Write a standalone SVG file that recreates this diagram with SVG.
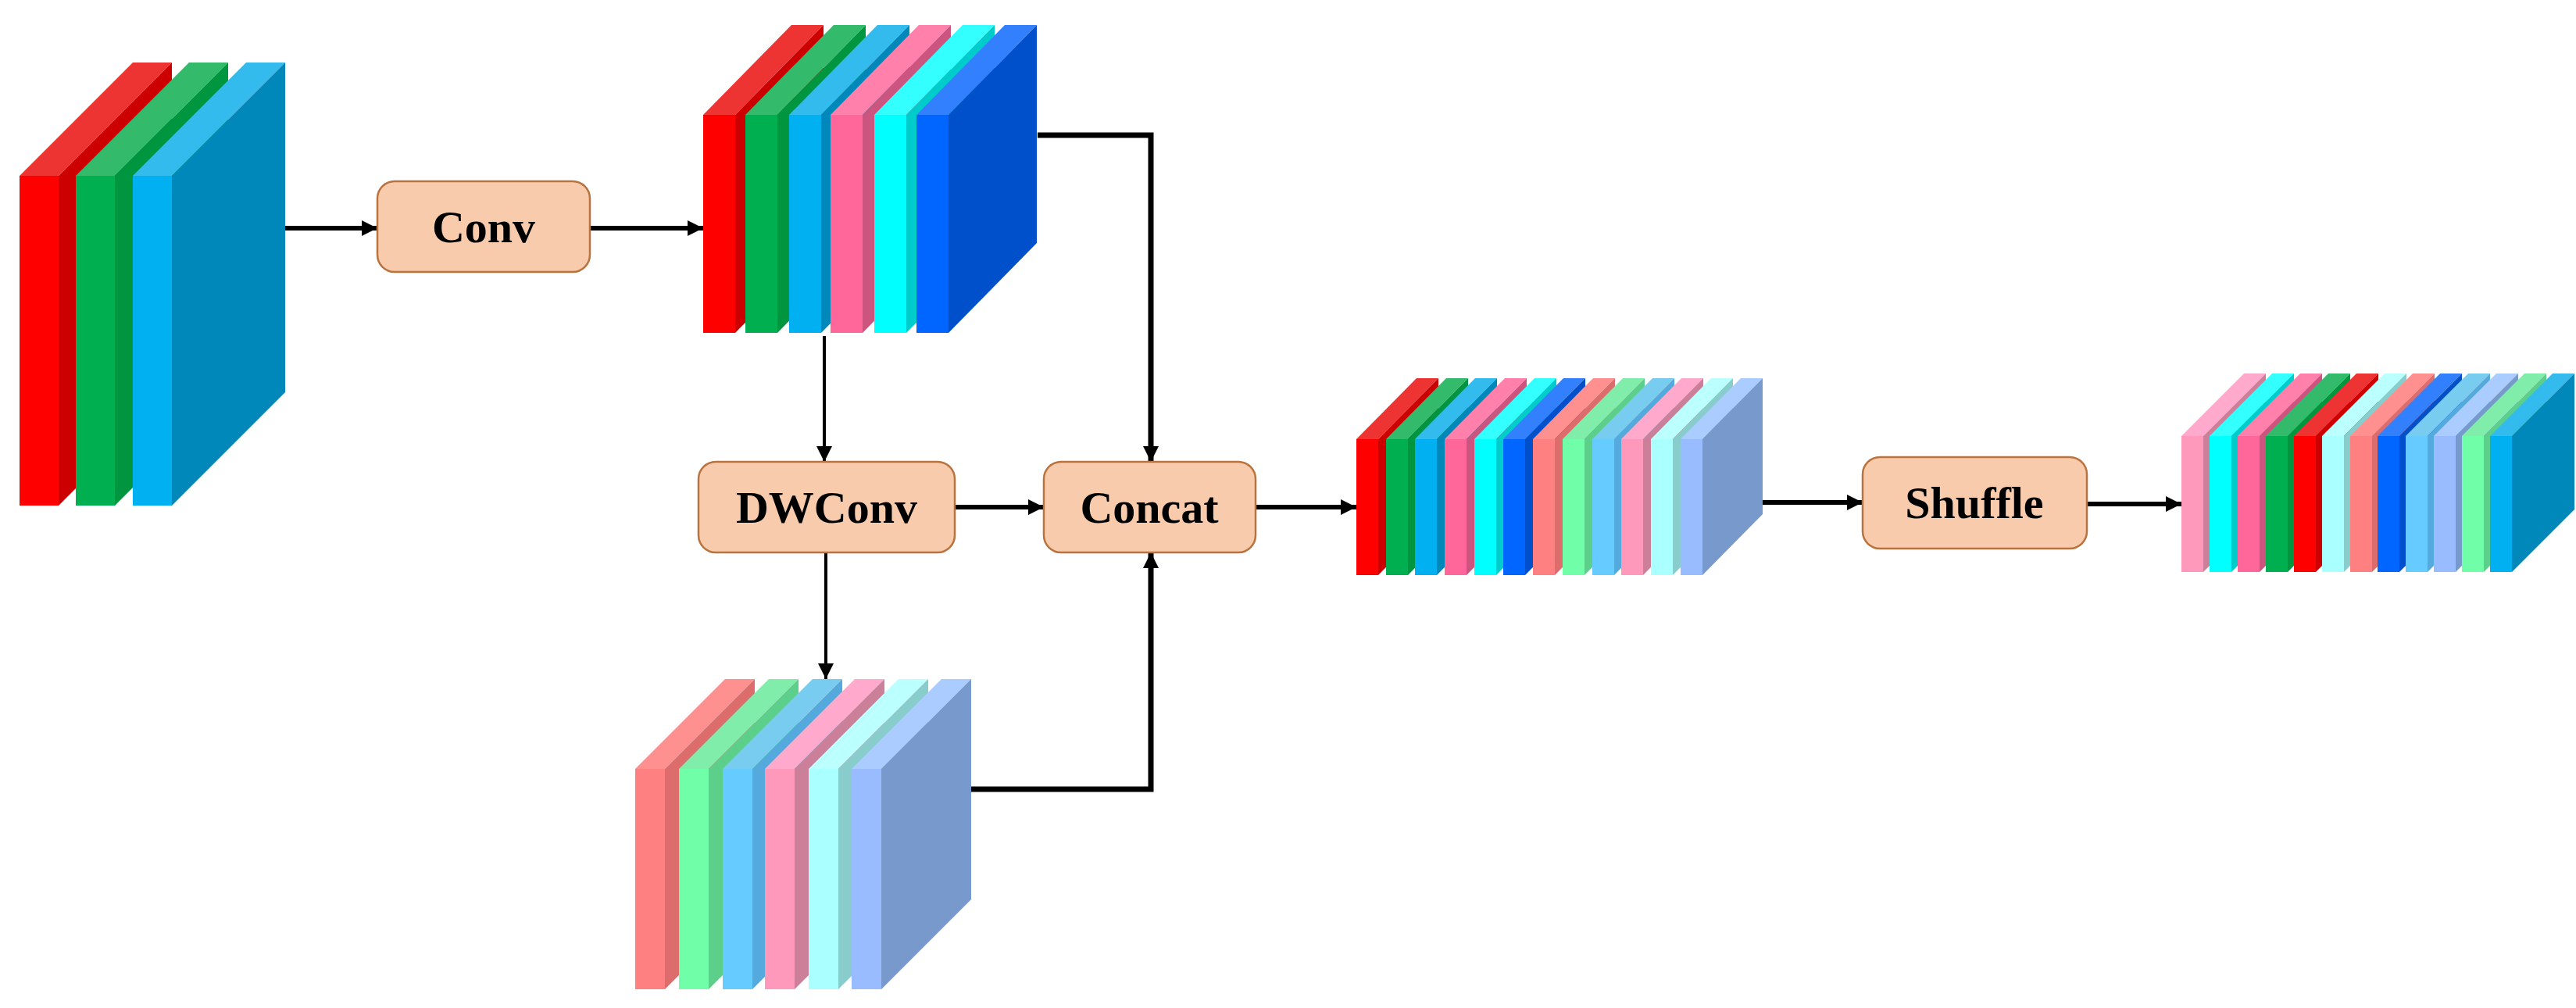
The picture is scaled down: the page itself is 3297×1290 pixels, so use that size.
<svg xmlns="http://www.w3.org/2000/svg" xmlns:xlink="http://www.w3.org/1999/xlink" width="3297" height="1290" viewBox="0 0 3297 1290">
<style>
.box{fill:#f8cbad;stroke:#b8733f;stroke-width:2.5}
.lbl{font-family:"Liberation Serif",serif;font-weight:bold;font-size:58px;fill:#000;text-anchor:middle;dominant-baseline:central}
.ln{fill:none;stroke:#000;stroke-width:6;marker-end:url(#ah)}
.ln2{fill:none;stroke:#000;stroke-width:7;marker-end:url(#ah)}
.thin{fill:none;stroke:#000;stroke-width:4;marker-end:url(#ah)}
.r .t{fill:#ee3333}.r .s{fill:#cc0000}.r .f{fill:#ff0000}
.g .t{fill:#33bb6b}.g .s{fill:#00953f}.g .f{fill:#00b050}
.b .t{fill:#33bbee}.b .s{fill:#0088bb}.b .f{fill:#00b0f0}
.p .t{fill:#ff80aa}.p .s{fill:#cc5580}.p .f{fill:#ff6699}
.c .t{fill:#33ffff}.c .s{fill:#00cccc}.c .f{fill:#00ffff}
.d .t{fill:#3380ff}.d .s{fill:#0050cc}.d .f{fill:#0066ff}
.sa .t{fill:#ff9090}.sa .s{fill:#dd6c6c}.sa .f{fill:#ff8080}
.m .t{fill:#80eeaa}.m .s{fill:#5cd08a}.m .f{fill:#70ffa8}
.lb .t{fill:#77ccf0}.lb .s{fill:#55aadd}.lb .f{fill:#66ccff}
.lp .t{fill:#ffaacc}.lp .s{fill:#cc7f99}.lp .f{fill:#ff99bb}
.pc .t{fill:#bbffff}.pc .s{fill:#88cccc}.pc .f{fill:#aaffff}
.pw .t{fill:#aaccff}.pw .s{fill:#7799cc}.pw .f{fill:#99bbff}
</style>
<defs>
<marker id="ah" viewBox="0 0 10 10" refX="10" refY="5" markerUnits="userSpaceOnUse" markerWidth="22" markerHeight="20" orient="auto"><path d="M0,0 L10,5 L0,10 z" fill="#000"/></marker>
<path id="At" d="M0,0 h50 l145,-145 h-50 z"/><path id="As" d="M50,0 l145,-145 v422 l-145,145 z"/><rect id="Af" width="50" height="422"/>
<path id="Bt" d="M0,0 h41 l113,-115 h-41 z"/><path id="Bs" d="M41,0 l113,-115 v279 l-113,115 z"/><rect id="Bf" width="41" height="279"/>
<path id="Ct" d="M0,0 h28 l77,-78 h-28 z"/><path id="Cs" d="M28,0 l77,-78 v174 l-77,78 z"/><rect id="Cf" width="28" height="174"/>
<path id="Dt" d="M0,0 h38 l115,-115 h-38 z"/><path id="Ds" d="M38,0 l115,-115 v282 l-115,115 z"/><rect id="Df" width="38" height="282"/>
<path id="Et" d="M0,0 h28 l80,-80 h-28 z"/><path id="Es" d="M28,0 l80,-80 v174 l-80,80 z"/><rect id="Ef" width="28" height="174"/>
</defs>

<g id="connectors">
<path class="ln" d="M365,292 H483"/>
<path class="ln" d="M755,292 H900"/>
<path class="thin" d="M1055,430 V591"/>
<path class="ln2" d="M1328,173 H1473 V591"/>
<path class="ln" d="M1222,649 H1336"/>
<path class="thin" d="M1057,707 V869"/>
<path class="ln2" d="M1243,1010 H1473 V707"/>
<path class="ln" d="M1607,649 H1736"/>
<path class="ln" d="M2256,643 H2384"/>
<path class="ln" d="M2671,645 H2792"/>
</g>

<g id="input-stack">
<g class="r" transform="translate(25,225)"><use href="#At" class="t"/><use href="#As" class="s"/><use href="#Af" class="f"/></g>
<g class="g" transform="translate(97,225)"><use href="#At" class="t"/><use href="#As" class="s"/><use href="#Af" class="f"/></g>
<g class="b" transform="translate(170,225)"><use href="#At" class="t"/><use href="#As" class="s"/><use href="#Af" class="f"/></g>
</g>

<g id="conv"><rect class="box" x="483" y="232" width="272" height="116" rx="22"/><text class="lbl" x="619" y="290">Conv</text></g>

<g id="conv-out-stack">
<g class="r" transform="translate(900,147)"><use href="#Bt" class="t"/><use href="#Bs" class="s"/><use href="#Bf" class="f"/></g>
<g class="g" transform="translate(954,147)"><use href="#Bt" class="t"/><use href="#Bs" class="s"/><use href="#Bf" class="f"/></g>
<g class="b" transform="translate(1010,147)"><use href="#Bt" class="t"/><use href="#Bs" class="s"/><use href="#Bf" class="f"/></g>
<g class="p" transform="translate(1063,147)"><use href="#Bt" class="t"/><use href="#Bs" class="s"/><use href="#Bf" class="f"/></g>
<g class="c" transform="translate(1119,147)"><use href="#Bt" class="t"/><use href="#Bs" class="s"/><use href="#Bf" class="f"/></g>
<g class="d" transform="translate(1173,147)"><use href="#Bt" class="t"/><use href="#Bs" class="s"/><use href="#Bf" class="f"/></g>
</g>

<g id="dwconv"><rect class="box" x="894" y="591" width="328" height="116" rx="22"/><text class="lbl" x="1058" y="649">DWConv</text></g>
<g id="concat"><rect class="box" x="1336" y="591" width="271" height="116" rx="22"/><text class="lbl" x="1471" y="649">Concat</text></g>

<g id="dwconv-out-stack">
<g class="sa" transform="translate(813,984)"><use href="#Dt" class="t"/><use href="#Ds" class="s"/><use href="#Df" class="f"/></g>
<g class="m" transform="translate(869,984)"><use href="#Dt" class="t"/><use href="#Ds" class="s"/><use href="#Df" class="f"/></g>
<g class="lb" transform="translate(925,984)"><use href="#Dt" class="t"/><use href="#Ds" class="s"/><use href="#Df" class="f"/></g>
<g class="lp" transform="translate(979,984)"><use href="#Dt" class="t"/><use href="#Ds" class="s"/><use href="#Df" class="f"/></g>
<g class="pc" transform="translate(1035,984)"><use href="#Dt" class="t"/><use href="#Ds" class="s"/><use href="#Df" class="f"/></g>
<g class="pw" transform="translate(1090,984)"><use href="#Dt" class="t"/><use href="#Ds" class="s"/><use href="#Df" class="f"/></g>
</g>

<g id="concat-out-stack">
<g class="r" transform="translate(1736,562)"><use href="#Ct" class="t"/><use href="#Cs" class="s"/><use href="#Cf" class="f"/></g>
<g class="g" transform="translate(1774,562)"><use href="#Ct" class="t"/><use href="#Cs" class="s"/><use href="#Cf" class="f"/></g>
<g class="b" transform="translate(1811,562)"><use href="#Ct" class="t"/><use href="#Cs" class="s"/><use href="#Cf" class="f"/></g>
<g class="p" transform="translate(1849,562)"><use href="#Ct" class="t"/><use href="#Cs" class="s"/><use href="#Cf" class="f"/></g>
<g class="c" transform="translate(1887,562)"><use href="#Ct" class="t"/><use href="#Cs" class="s"/><use href="#Cf" class="f"/></g>
<g class="d" transform="translate(1924,562)"><use href="#Ct" class="t"/><use href="#Cs" class="s"/><use href="#Cf" class="f"/></g>
<g class="sa" transform="translate(1962,562)"><use href="#Ct" class="t"/><use href="#Cs" class="s"/><use href="#Cf" class="f"/></g>
<g class="m" transform="translate(2000,562)"><use href="#Ct" class="t"/><use href="#Cs" class="s"/><use href="#Cf" class="f"/></g>
<g class="lb" transform="translate(2038,562)"><use href="#Ct" class="t"/><use href="#Cs" class="s"/><use href="#Cf" class="f"/></g>
<g class="lp" transform="translate(2075,562)"><use href="#Ct" class="t"/><use href="#Cs" class="s"/><use href="#Cf" class="f"/></g>
<g class="pc" transform="translate(2113,562)"><use href="#Ct" class="t"/><use href="#Cs" class="s"/><use href="#Cf" class="f"/></g>
<g class="pw" transform="translate(2151,562)"><use href="#Ct" class="t"/><use href="#Cs" class="s"/><use href="#Cf" class="f"/></g>
</g>

<g id="shuffle"><rect class="box" x="2384" y="585" width="287" height="117" rx="22"/><text class="lbl" x="2527" y="643">Shuffle</text></g>

<g id="shuffle-out-stack">
<g class="lp" transform="translate(2792,558)"><use href="#Et" class="t"/><use href="#Es" class="s"/><use href="#Ef" class="f"/></g>
<g class="c" transform="translate(2828,558)"><use href="#Et" class="t"/><use href="#Es" class="s"/><use href="#Ef" class="f"/></g>
<g class="p" transform="translate(2864,558)"><use href="#Et" class="t"/><use href="#Es" class="s"/><use href="#Ef" class="f"/></g>
<g class="g" transform="translate(2900,558)"><use href="#Et" class="t"/><use href="#Es" class="s"/><use href="#Ef" class="f"/></g>
<g class="r" transform="translate(2936,558)"><use href="#Et" class="t"/><use href="#Es" class="s"/><use href="#Ef" class="f"/></g>
<g class="pc" transform="translate(2972,558)"><use href="#Et" class="t"/><use href="#Es" class="s"/><use href="#Ef" class="f"/></g>
<g class="sa" transform="translate(3008,558)"><use href="#Et" class="t"/><use href="#Es" class="s"/><use href="#Ef" class="f"/></g>
<g class="d" transform="translate(3043,558)"><use href="#Et" class="t"/><use href="#Es" class="s"/><use href="#Ef" class="f"/></g>
<g class="lb" transform="translate(3079,558)"><use href="#Et" class="t"/><use href="#Es" class="s"/><use href="#Ef" class="f"/></g>
<g class="pw" transform="translate(3115,558)"><use href="#Et" class="t"/><use href="#Es" class="s"/><use href="#Ef" class="f"/></g>
<g class="m" transform="translate(3151,558)"><use href="#Et" class="t"/><use href="#Es" class="s"/><use href="#Ef" class="f"/></g>
<g class="b" transform="translate(3187,558)"><use href="#Et" class="t"/><use href="#Es" class="s"/><use href="#Ef" class="f"/></g>
</g>
</svg>
